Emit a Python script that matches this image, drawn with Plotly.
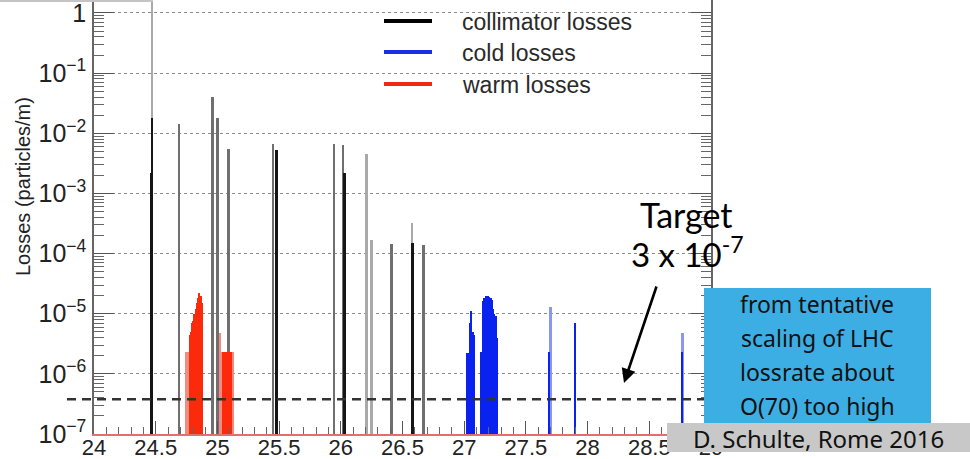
import math
import plotly.graph_objects as go

# ---------------- data ----------------
# collimator losses, split by the grey shade they are drawn in
coll_light_x = [24.47, 26.21, 26.25, 26.58]
coll_light_y = [2.0, 4.5e-3, 1.7e-4, 3.2e-4]
coll_mid_x = [24.69, 24.96, 25.00, 25.09, 25.45, 25.945, 26.02, 26.41, 26.67]
coll_mid_y = [0.014, 0.04, 0.018, 0.0055, 0.0066, 0.0066, 0.0064, 1.45e-4, 1.4e-4]
coll_dark_x = [24.47, 24.465, 25.48, 26.03, 26.58]
coll_dark_y = [0.018, 2.2e-3, 0.0052, 0.0022, 1.5e-4]

# warm losses (red histogram), faint and solid parts
warm_light_x = [24.745, 24.755, 24.765, 25.025, 25.035, 25.125]
warm_light_y = [2.3e-6, 2.3e-6, 2.3e-6, 4.7e-6, 2.3e-6, 2.3e-6]
warm_solid_x = [24.775, 24.785, 24.795, 24.805, 24.815, 24.825, 24.835, 24.845,
                24.855, 24.865, 24.875,
                25.045, 25.055, 25.065, 25.075, 25.085, 25.095, 25.105, 25.115]
warm_solid_y = [4.5e-6, 5.0e-6, 7.0e-6, 7.5e-6, 1.0e-5, 1.2e-5, 1.5e-5, 1.8e-5,
                2.2e-5, 2.0e-5, 1.5e-5,
                2.3e-6, 2.3e-6, 2.3e-6, 2.3e-6, 2.3e-6, 2.3e-6, 2.3e-6, 2.3e-6]

# cold losses (blue histogram)
cold_solid_x = [27.02, 27.03, 27.04, 27.05, 27.06, 27.07, 27.08,
                27.135, 27.145, 27.155, 27.165, 27.175, 27.185, 27.195, 27.205,
                27.215, 27.225, 27.235, 27.245, 27.255, 27.265,
                27.69, 27.90, 28.765]
cold_solid_y = [2.2e-6, 2.2e-6, 2.2e-6, 7e-6, 1.1e-5, 5e-6, 4.5e-6,
                2.3e-6, 2.3e-6, 1.6e-5, 1.8e-5, 2.0e-5, 1.9e-5, 2.0e-5, 1.9e-5,
                1.8e-5, 1.7e-5, 1.2e-5, 1.0e-5, 9e-6, 4e-6,
                2.3e-6, 7e-6, 2.3e-6]
cold_light_x = [27.70, 28.77]
cold_light_y = [1.3e-5, 4.7e-6]

target_line = 3.8e-7

x_ticks = [24, 24.5, 25, 25.5, 26, 26.5, 27, 27.5, 28, 28.5, 29]
x_range = [24, 29]
y_range_log = [-7, 0.216]

legend_names = ["collimator losses", "cold losses", "warm losses"]
legend_colors = ["#000000", "#1a2ee8", "#f02a10"]

box_lines = ["from tentative", "scaling of LHC", "lossrate about", "O(70) too high"]
credit = "D. Schulte, Rome 2016"

# ---------------- geometry helpers ----------------
W, H = 970, 459
L, R, T, B = 94, 711, 0, 434


def px_x(px):
    return (px - L) / (R - L)


def px_y(py):
    return (B - py) / (B - T)


fig = go.Figure()

fig.add_trace(go.Bar(x=coll_light_x, y=coll_light_y, width=0.016,
                     marker=dict(color="#a9a9a9", line_width=0), name="coll light"))
fig.add_trace(go.Bar(x=coll_mid_x, y=coll_mid_y, width=0.018,
                     marker=dict(color="#6f6f6f", line_width=0), name="coll mid"))
fig.add_trace(go.Bar(x=coll_dark_x, y=coll_dark_y, width=0.02,
                     marker=dict(color="#151515", line_width=0), name="coll dark"))
fig.add_trace(go.Bar(x=warm_light_x, y=warm_light_y, width=0.0102,
                     marker=dict(color="#f58a80", line_width=0), name="warm light"))
fig.add_trace(go.Bar(x=warm_solid_x, y=warm_solid_y, width=0.0102,
                     marker=dict(color="#fa2a0a", line_width=0), name="warm"))
fig.add_trace(go.Bar(x=cold_light_x, y=cold_light_y, width=0.016,
                     marker=dict(color="#8a96f0", line_width=0), name="cold light"))
fig.add_trace(go.Bar(x=cold_solid_x, y=cold_solid_y, width=0.0102,
                     marker=dict(color="#0a22f0", line_width=0), name="cold"))

ytick_font = dict(family="Liberation Sans, Arial, sans-serif", size=20, color="#222")
xtick_font = dict(family="Liberation Sans, Arial, sans-serif", size=22, color="#222")

fig.update_layout(
    width=W, height=H,
    margin=dict(l=L, r=W - R, t=T, b=H - B, autoexpand=False),
    paper_bgcolor="white", plot_bgcolor="white",
    barmode="overlay", bargap=0,
    showlegend=False,
    font=ytick_font,
    xaxis=dict(
        range=x_range, tickvals=x_ticks, ticktext=[f"{v:g}" for v in x_ticks],
        ticks="inside", ticklen=13, tickwidth=1.2, tickcolor="#555",
        minor=dict(dtick=0.1, ticks="inside", ticklen=7, tickcolor="#666", showgrid=False),
        showgrid=False, zeroline=False,
        showline=True, linecolor="#e07070", linewidth=1.5, mirror=False,
        tickfont=xtick_font, automargin=False, ticklabelstandoff=-7,
        ticklabeloverflow="allow",
    ),
    yaxis=dict(
        type="log", range=y_range_log, dtick=1, exponentformat="power",
        ticks="inside", ticklen=20, tickwidth=1.2, tickcolor="#555",
        minor=dict(dtick="D1", ticks="inside", ticklen=10, tickcolor="#666",
                   tickwidth=1, showgrid=False),
        showgrid=True, gridcolor="#8c8c8c", griddash="dot", gridwidth=1,
        zeroline=False,
        showline=True, linecolor="#666", linewidth=1.5, mirror="allticks",
        tickfont=ytick_font, ticklabelstandoff=2, automargin=False,
        ticklabeloverflow="allow",
    ),
)

shapes = []
annotations = []

# target dashed line (extends left of the frame as in the slide)
ty = (math.log10(target_line) - y_range_log[0]) / (y_range_log[1] - y_range_log[0])
shapes.append(dict(type="line", xref="paper", yref="paper",
                   x0=px_x(67), x1=px_x(704), y0=ty, y1=ty,
                   line=dict(color="#333", width=2.5, dash="9px,6px"), layer="above"))

# legend drawn by hand
legend_rows = [21, 52, 84]
for name, color, row in zip(legend_names, legend_colors, legend_rows):
    shapes.append(dict(type="line", xref="paper", yref="paper",
                       x0=px_x(384), x1=px_x(432), y0=px_y(row), y1=px_y(row),
                       line=dict(color=color, width=4), layer="above"))
    annotations.append(dict(text=name, xref="paper", yref="paper",
                            x=px_x(460), y=px_y(row + 1), xanchor="left", yanchor="middle",
                            showarrow=False,
                            font=dict(family="Liberation Sans, Arial", size=23, color="#2a2a2a")))

# y axis title
annotations.append(dict(text="Losses (particles/m)", xref="paper", yref="paper",
                        x=px_x(23), y=px_y(187), textangle=-90, showarrow=False,
                        xanchor="center", yanchor="middle",
                        font=dict(family="Liberation Sans, Arial", size=20, color="#222")))

# Target text and arrow
annotations.append(dict(text="Target", xref="paper", yref="paper",
                        x=px_x(686), y=px_y(214), showarrow=False,
                        xanchor="center", yanchor="middle",
                        font=dict(family="Lato", size=34, color="#000")))
annotations.append(dict(text="3 x 10<sup>-7</sup>", xref="paper", yref="paper",
                        x=px_x(687), y=px_y(252), showarrow=False,
                        xanchor="center", yanchor="middle",
                        font=dict(family="Lato", size=33, color="#000")))
annotations.append(dict(text="", xref="paper", yref="paper",
                        x=px_x(624), y=px_y(383), ax=657 - 624, ay=285 - 383,
                        axref="pixel", ayref="pixel", showarrow=True,
                        arrowhead=2, arrowsize=1.1, arrowwidth=2.6, arrowcolor="#000"))

# blue info box and grey credit box
shapes.append(dict(type="rect", xref="paper", yref="paper",
                   x0=px_x(704), x1=px_x(931), y0=px_y(424), y1=px_y(288),
                   fillcolor="#3daee3", line_width=0, layer="above"))
shapes.append(dict(type="rect", xref="paper", yref="paper",
                   x0=px_x(667), x1=px_x(972), y0=px_y(452), y1=px_y(423),
                   fillcolor="#c8c8c8", line_width=0, layer="above"))
for txt, row in zip(box_lines, [304, 338, 372, 406]):
    annotations.append(dict(text=txt, xref="paper", yref="paper",
                            x=px_x(817), y=px_y(row), showarrow=False,
                            xanchor="center", yanchor="middle",
                            font=dict(family="Noto Sans", size=23, color="#111")))
annotations.append(dict(text=credit, xref="paper", yref="paper",
                        x=px_x(818), y=px_y(438), showarrow=False,
                        xanchor="center", yanchor="middle",
                        font=dict(family="Noto Sans", size=24, color="#111")))

# faint slide frame at the top left
shapes.append(dict(type="line", xref="paper", yref="paper",
                   x0=px_x(0), x1=px_x(153), y0=px_y(1), y1=px_y(1),
                   line=dict(color="#c4c4c4", width=2), layer="above"))

fig.update_layout(shapes=shapes, annotations=annotations)
fig.write_html("out.html",
               config={"displayModeBar": False},
               post_script="document.body.style.margin='0';document.body.style.overflow='hidden';")
